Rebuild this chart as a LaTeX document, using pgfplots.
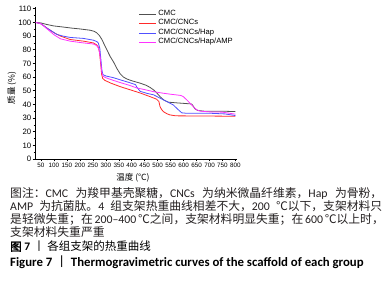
\documentclass[border=0pt]{standalone}
\usepackage{fontspec}
\setmainfont{Liberation Sans}
\newfontfamily\cjk{Noto Sans CJK SC}
\newfontfamily\cjkb[FakeBold=2]{Noto Sans CJK SC}
\newfontfamily\carlito{Carlito}
\usepackage{pgfplots}
\pgfplotsset{compat=1.18}
\definecolor{cmcgrey}{HTML}{505050}
\definecolor{cncred}{HTML}{FF2A2A}
\definecolor{hapblue}{HTML}{5050FF}
\definecolor{ampmag}{HTML}{FF33FF}
\definecolor{captxt}{HTML}{231F20}
\begin{document}
\begin{tikzpicture}
\path[use as bounding box] (0,0) rectangle (388pt,-291pt);
\begin{axis}[
  at={(35pt,-159pt)}, anchor=south west,
  scale only axis, width=202pt, height=152.3pt,
  xmin=27, xmax=806, ymin=0, ymax=111.5,
  axis lines*=left,
  axis line style={black, line width=0.6pt},
  xtick={50,100,...,800}, ytick={0,10,...,110},
  minor x tick num=1, minor y tick num=1,
  tick align=outside, tick style={black, line width=0.5pt},
  major tick length=2.5pt, minor tick length=1.5pt,
  /pgf/number format/assume math mode=true,
  x tick label style={font=\fontsize{6.3}{7}\selectfont, inner sep=1pt},
  y tick label style={font=\fontsize{7.8}{9}\selectfont, inner sep=1pt},
  scaled ticks=false,
  xlabel={\cjk 温度 (℃)}, ylabel={\cjk 质量 (\%)},
  xlabel style={at={(axis description cs:0.485,-0.125)}, anchor=center, font=\fontsize{8.5}{9}\selectfont},
  ylabel style={at={(axis description cs:-0.114,0.466)}, anchor=center, font=\fontsize{8.5}{9}\selectfont},
  legend style={at={(axis description cs:0.514,0.983)}, anchor=north west, draw=none, fill=none,
    font=\fontsize{7.6}{8}\selectfont, inner sep=0pt, row sep=0pt, column sep=1.6pt,
    nodes={inner sep=0pt, outer sep=0pt, text height=6pt, text depth=3.5pt}},
  legend image code/.code={\draw[#1] (0pt,0pt) -- (17pt,0pt);},
  legend cell align=left,
  every axis plot/.append style={line width=0.8pt, mark=none},
]
\addplot[color=cmcgrey] coordinates {
(30,100) (50,99.6) (72,98.5) (100,97.4) (136,96.6) (170,95.8) (201,95.2) (239,94.3)
(255,93.5) (265,92.4) (275,90.5) (285,87.5) (295,83.5) (304,80) (317,75) (330,71)
(342,66.5) (355,62.5) (368,60) (381,58.6) (400,57.3) (433,55.5) (455,54) (470,52.5)
(485,50.5) (496,48.5) (510,45.5) (525,43) (541,41.6) (580,41) (631,40.3) (638,38.5)
(644,36.7) (655,35.5) (680,35) (750,35) (800,34.7)};
\addlegendentry{CMC}
\addplot[color=cncred] coordinates {
(30,100) (50,99) (72,96) (100,92.5) (125,90) (162,87.5) (213,86.3) (252,85)
(265,83.5) (271,82) (276,78) (280,70) (284,62) (288,59) (297,57.5) (320,55.5)
(355,53) (400,50.3) (433,48.3) (470,45.7) (496,43.8) (505,42) (509,38.4) (515,36.3)
(522,34.7) (535,33.2) (547,32.3) (570,31.6) (650,31.5) (800,31.3)};
\addlegendentry{CMC/CNCs}
\addplot[color=hapblue] coordinates {
(30,100) (50,99) (72,96) (111,91.2) (135,90) (162,89) (213,88.3) (252,87)
(265,86) (271,85) (277,81) (281,73) (285,65) (289,61.8) (300,60.8) (330,59.5)
(355,58) (390,56) (415,54.4) (420,52.5) (433,49.5) (460,48) (484,47) (510,44.5)
(536,42) (560,39.6) (580,36) (593,33.8) (610,33.5) (700,33.5) (760,33) (800,31.8)};
\addlegendentry{CMC/CNCs/Hap}
\addplot[color=ampmag] coordinates {
(30,100) (50,99) (72,95.5) (100,91) (125,88) (162,86.3) (213,85) (252,84.2)
(265,83) (272,81) (277,77) (281,70) (285,63) (290,60.5) (300,59.5) (330,57.5)
(355,56) (390,54) (420,52) (450,50.8) (484,49.3) (520,48.2) (547,47.5) (590,46.5)
(600,45.5) (612,43.3) (625,40.8) (637,38.4) (650,36) (665,35) (700,34.5) (750,34.3)
(800,32.8)};
\addlegendentry{CMC/CNCs/Hap/AMP}
\end{axis}
\begin{scope}[every node/.style={anchor=west, inner sep=0pt, text=captxt}]
\node[font=\fontsize{11.8}{14}\selectfont] at (10pt,-193pt) {\makebox[372pt][s]{{\cjk 图注：}\carlito CMC {\cjk 为羧甲基壳聚糖，}CNCs {\cjk 为纳米微晶纤维素，}Hap {\cjk 为骨粉，}}};
\node[font=\fontsize{11.8}{14}\selectfont] at (10pt,-206.5pt) {\makebox[372pt][s]{\carlito AMP {\cjk 为抗菌肽。}4 {\cjk 组支架热重曲线相差不大，}200 {\cjk ℃以下，支架材料只}}};
\node[font=\fontsize{11.8}{14}\selectfont] at (10pt,-219.5pt) {\makebox[372pt][s]{\carlito {\cjk 是轻微失重；在} 200–400 {\cjk ℃之间，支架材料明显失重；在} 600 {\cjk ℃以上时，}}};
\node[font=\fontsize{11.8}{14}\selectfont] at (10pt,-232.5pt) {\cjk 支架材料失重严重};
\node[font=\fontsize{11.5}{14}\selectfont, text=black] at (10pt,-246.5pt) {{\cjkb 图 }{\carlito\bfseries 7} {\cjk 丨 各组支架的热重曲线}};
\node[font=\fontsize{12.8}{14}\selectfont, text=black] at (10pt,-262pt) {\carlito\bfseries Figure 7 {\mdseries\cjk 丨} Thermogravimetric curves of the scaffold of each group};
\end{scope}
\end{tikzpicture}
\end{document}
